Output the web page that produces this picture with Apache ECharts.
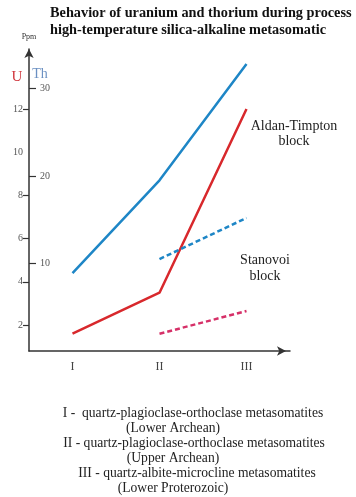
<!DOCTYPE html>
<html>
<head>
<meta charset="utf-8">
<script src="https://cdn.jsdelivr.net/npm/echarts@6/dist/echarts.min.js"></script>
<style>
html,body{margin:0;padding:0;background:#fff;}
#chart{width:356px;height:497px;}
</style>
</head>
<body>
<div id="chart"></div>
<script>
// Data
var categories = ['I', 'II', 'III'];
var thAldan = [8.9, 19.5, 32.8];      // Th, Aldan-Timpton block (solid blue)
var uAldan = [1.6, 3.5, 12.0];        // U, Aldan-Timpton block (solid red)
var thStanovoi = ['-', 10.5, 15.2];   // Th, Stanovoi block (dashed blue)
var uStanovoi = ['-', 1.6, 2.65];     // U, Stanovoi block (dashed pink)
var uTicks = [2, 4, 6, 8, 12];
var uLabels = [2, 4, 6, 8, 10, 12];
var thTicks = [10, 20, 30];
var titleLines = ['Behavior of uranium and thorium during process', 'high-temperature silica-alkaline metasomatic'];
var footLines = [
  'I -  quartz-plagioclase-orthoclase metasomatites',
  '(Lower Archean)',
  'II - quartz-plagioclase-orthoclase metasomatites',
  '(Upper Archean)',
  'III - quartz-albite-microcline metasomatites',
  '(Lower Proterozoic)'
];
var footCenters = [193, 173, 194, 173, 197, 173];

var serif = '"Liberation Serif", "DejaVu Serif", serif';
var blue = '#1e86c6';
var red = '#d8282c';
var pink = '#d63068';

var chart = echarts.init(document.getElementById('chart'), null, {renderer: 'canvas'});

var graphics = [];
titleLines.forEach(function (t, i) {
  graphics.push({type: 'text', x: 50, y: 13 + i * 17,
    style: {text: t, font: 'bold 14.3px ' + serif, fill: '#111', verticalAlign: 'middle'}});
});
footLines.forEach(function (t, i) {
  graphics.push({type: 'text', x: footCenters[i], y: 413 + i * 15,
    style: {text: t, font: '13.6px ' + serif, fill: '#222', align: 'center', verticalAlign: 'middle'}});
});
graphics.push({type: 'text', x: 29, y: 37, style: {text: 'Ppm', font: '8px ' + serif, fill: '#333', align: 'center', verticalAlign: 'middle'}});
graphics.push({type: 'text', x: 17, y: 77, style: {text: 'U', font: '15px ' + serif, fill: '#d0353c', align: 'center', verticalAlign: 'middle'}});
graphics.push({type: 'text', x: 40, y: 74, style: {text: 'Th', font: '14px ' + serif, fill: '#6b90c2', align: 'center', verticalAlign: 'middle'}});
graphics.push({type: 'text', x: 294, y: 126, style: {text: 'Aldan-Timpton', font: '14px ' + serif, fill: '#222', align: 'center', verticalAlign: 'middle'}});
graphics.push({type: 'text', x: 294, y: 141, style: {text: 'block', font: '14px ' + serif, fill: '#222', align: 'center', verticalAlign: 'middle'}});
graphics.push({type: 'text', x: 265, y: 260, style: {text: 'Stanovoi', font: '14px ' + serif, fill: '#222', align: 'center', verticalAlign: 'middle'}});
graphics.push({type: 'text', x: 265, y: 276, style: {text: 'block', font: '14px ' + serif, fill: '#222', align: 'center', verticalAlign: 'middle'}});

var option = {
  animation: false,
  backgroundColor: '#fff',
  grid: {left: 29, top: 49, width: 261, height: 302, containLabel: false},
  xAxis: {
    type: 'category',
    data: categories,
    boundaryGap: true,
    axisLine: {lineStyle: {color: '#333', width: 1.5}, symbol: ['none', 'arrow'], symbolSize: [7, 9], symbolOffset: [0, -4]},
    axisTick: {alignWithLabel: true, length: 7, lineStyle: {color: '#333', width: 1.2}},
    axisLabel: {fontFamily: serif, fontSize: 12, color: '#444', margin: 10},
    splitLine: {show: false}
  },
  yAxis: [
    {
      type: 'value', min: 0.8, max: 14.78, position: 'left',
      axisLine: {show: true, lineStyle: {color: '#333', width: 1.5}, symbol: ['none', 'arrow'], symbolSize: [7, 9]},
      axisTick: {show: true, length: 6, customValues: uTicks, lineStyle: {color: '#333', width: 1.2}},
      axisLabel: {customValues: uLabels, fontFamily: serif, fontSize: 10, color: '#555', margin: 6},
      splitLine: {show: false}
    },
    {
      type: 'value', min: 0, max: 34.5, position: 'left', offset: 0,
      axisLine: {show: false},
      axisTick: {show: true, inside: true, length: 7, customValues: thTicks, lineStyle: {color: '#333', width: 1.2}},
      axisLabel: {inside: true, customValues: thTicks, fontFamily: serif, fontSize: 10, color: '#555', margin: 11},
      splitLine: {show: false}
    }
  ],
  series: [
    {type: 'line', yAxisIndex: 1, data: thAldan, symbol: 'none', lineStyle: {color: blue, width: 2.5}},
    {type: 'line', yAxisIndex: 0, data: uAldan, symbol: 'none', lineStyle: {color: red, width: 2.5}},
    {type: 'line', yAxisIndex: 1, data: thStanovoi, symbol: 'none', lineStyle: {color: blue, width: 2.5, type: [5, 3]}},
    {type: 'line', yAxisIndex: 0, data: uStanovoi, symbol: 'none', lineStyle: {color: pink, width: 2.5, type: [5, 3]}}
  ],
  graphic: graphics
};
chart.setOption(option);
</script>
</body>
</html>
